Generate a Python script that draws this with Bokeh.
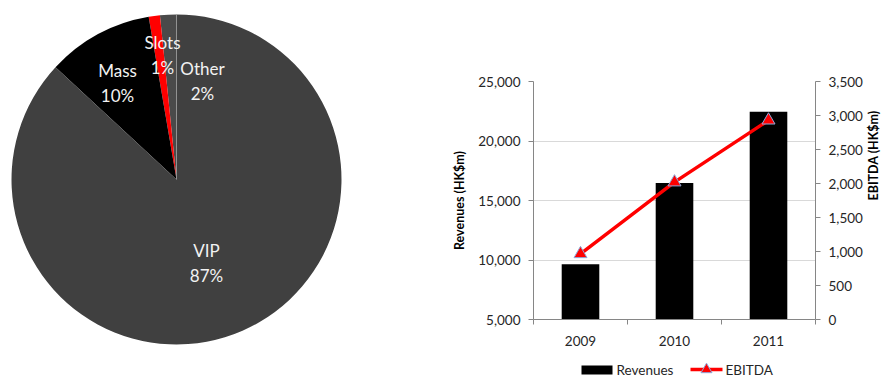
import math
from bokeh.plotting import figure
from bokeh.layouts import row, column
from bokeh.models import (Range1d, LinearAxis, SingleIntervalTicker, FixedTicker,
                          NumeralTickFormatter)
from bokeh.core.properties import value
from bokeh.embed import file_html
from bokeh.resources import INLINE

# ---- data ----
seg_names = ["Other", "Slots", "Mass", "VIP"]
seg_share = [1.6, 1.1, 10.4, 86.9]
seg_pct_labels = ["2%", "1%", "10%", "87%"]
seg_colors = ["#4a4a4a", "#ff0000", "#000000", "#404040"]

years = ["2009", "2010", "2011"]
revenues = [9650, 16480, 22450]
ebitda = [965, 2020, 2930]
series_names = ["Revenues", "EBITDA"]

FONT = "Lato"


def no_align(fig):
    try:
        fig.frame_align = False
    except Exception:
        pass


# ---- pie ----
pie = figure(width=445, height=378, output_backend="svg", toolbar_location=None,
             x_range=Range1d(0, 445), y_range=Range1d(-378, 0), min_border=0)
no_align(pie)
pie.axis.visible = False
pie.grid.visible = False
pie.outline_line_color = None

cx, cy, rad = 176, -179, 165
total = sum(seg_share)
starts, ends = [], []
acc = 0.0
for s in seg_share:
    a0 = math.pi / 2 + 2 * math.pi * acc / total
    acc += s
    a1 = math.pi / 2 + 2 * math.pi * acc / total
    starts.append(a0)
    ends.append(a1)
pie.wedge(x=cx, y=cy, radius=rad, start_angle=starts, end_angle=ends,
          fill_color=seg_colors, line_color=None)
pie.line(x=[cx, cx], y=[cy, cy + rad], line_color="#9a9a9a", line_width=0.8)

label_pos = [(202, 80), (162, 54), (117, 82), (206, 262)]
for (lx, ly), n, l in zip(label_pos, seg_names, seg_pct_labels):
    pie.text(x=[lx, lx], y=[-ly + 12.5, -ly - 12.5], text=[n, l], text_font=value(FONT),
             text_font_size="17px", text_color="#f2f2f2", text_align="center",
             text_baseline="middle")

# ---- bar / line chart ----
xs = [i + 1 for i in range(len(years))]
p = figure(width=446, height=356, output_backend="svg", toolbar_location=None,
           x_range=Range1d(0.5, len(years) + 0.5), y_range=Range1d(5000, 25000),
           min_border_left=88, min_border_right=71, min_border_top=81, min_border_bottom=37)
no_align(p)
p.extra_y_ranges = {"ebitda": Range1d(0, 3500)}
p.outline_line_color = None
p.xgrid.visible = False
p.ygrid.grid_line_color = "#d9d9d9"
p.ygrid.ticker = SingleIntervalTicker(interval=5000)

BAR_COLOR = "black"
LINE_COLOR = "#ff0000"
MARK_LINE = "#8eaadb"

p.vbar(x=xs, top=revenues, bottom=5000, width=0.4, fill_color=BAR_COLOR, line_color=None)
p.line(x=xs, y=ebitda, y_range_name="ebitda", line_color=LINE_COLOR, line_width=3.5)
p.scatter(x=xs, y=ebitda, y_range_name="ebitda", marker="triangle", size=13,
          fill_color=LINE_COLOR, line_color=MARK_LINE, line_width=1)

axis_col = "#868686"
lab_col = "#262626"

xa = p.xaxis[0]
xa.ticker = FixedTicker(ticks=xs, minor_ticks=[x - 0.5 for x in xs] + [xs[-1] + 0.5])
xa.major_label_overrides = {x: y for x, y in zip(xs, years)}
xa.major_tick_line_color = None
xa.minor_tick_line_color = axis_col
xa.minor_tick_out = 5
xa.minor_tick_in = 0
xa.axis_line_color = axis_col
xa.major_label_text_font = FONT
xa.major_label_text_font_size = "13.5px"
xa.major_label_text_color = lab_col
xa.major_label_standoff = 10

ya = p.yaxis[0]
ya.ticker = SingleIntervalTicker(interval=5000)
ya.formatter = NumeralTickFormatter(format="0,0")
ya.axis_label = "Revenues (HK$m)"

ra = LinearAxis(y_range_name="ebitda", ticker=SingleIntervalTicker(interval=500),
                formatter=NumeralTickFormatter(format="0,0"), axis_label="EBITDA (HK$m)")
p.add_layout(ra, "right")

for a in (ya, ra):
    a.axis_line_color = axis_col
    a.major_tick_line_color = axis_col
    a.major_tick_out = 5
    a.major_tick_in = 0
    a.minor_tick_line_color = None
    a.major_label_text_font = FONT
    a.major_label_text_font_size = "13.5px"
    a.major_label_text_color = lab_col
    a.major_label_standoff = 8
    a.axis_label_text_font = FONT
    a.axis_label_text_font_size = "12.5px"
    a.axis_label_text_font_style = "bold"
    a.axis_label_text_color = "black"
    a.axis_label_standoff = 8

try:
    ra.axis_label_orientation = math.pi / 2
except Exception:
    pass

# ---- legend strip (below the bar chart) ----
leg = figure(width=446, height=22, output_backend="svg", toolbar_location=None,
             x_range=Range1d(0, 446), y_range=Range1d(-22, 0), min_border=0)
no_align(leg)
leg.axis.visible = False
leg.grid.visible = False
leg.outline_line_color = None

leg.rect(x=[151.5], y=[-13.5], width=31, height=9, fill_color=BAR_COLOR, line_color=None)
leg.line(x=[245, 277], y=[-13, -13], line_color=LINE_COLOR, line_width=3.5)
leg.scatter(x=[261], y=[-13], marker="triangle", size=11, fill_color=LINE_COLOR,
            line_color=MARK_LINE, line_width=1)
leg.text(x=[171, 280], y=[-13, -13], text=series_names, text_font=value(FONT),
         text_font_size="13.5px", text_color=lab_col, text_align="left",
         text_baseline="middle")

layout = row(pie, column(p, leg))
open("out.html", "w").write(file_html(layout, INLINE))
